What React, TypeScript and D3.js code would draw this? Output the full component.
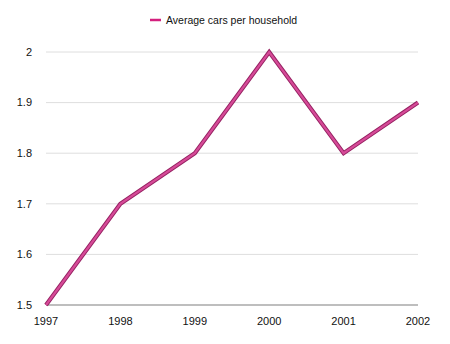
import React from "react";
import * as d3 from "d3";

const years = ["1997", "1998", "1999", "2000", "2001", "2002"];
const cars = [1.5, 1.7, 1.8, 2.0, 1.8, 1.9];
const yTicks = [1.5, 1.6, 1.7, 1.8, 1.9, 2];
const seriesName = "Average cars per household";

export default function App() {
  const W = 450, H = 344;
  const x = d3.scalePoint<string>().domain(years).range([46, 418]);
  const y = d3.scaleLinear().domain([1.5, 2]).range([305, 52]);
  const line = d3.line<number>().x((_, i) => x(years[i])!).y((d) => y(d));
  const path = line(cars)!;
  const font = "'Liberation Sans', Arial, Helvetica, sans-serif";
  return (
    <svg width={W} height={H} style={{ position: "absolute", left: 0, top: 0 }} fontFamily={font}>
      <rect width={W} height={H} fill="#fff" />
      {yTicks.map((t) => (
        <g key={t}>
          {t !== 1.5 && (
            <line x1={46} x2={418} y1={y(t)} y2={y(t)} stroke="#dedede" strokeWidth={1} />
          )}
          <text x={32} y={y(t)} dy="0.35em" textAnchor="end" fontSize={11} fill="#111">
            {d3.format("")(t)}
          </text>
        </g>
      ))}
      <line x1={46} x2={418} y1={y(1.5)} y2={y(1.5)} stroke="#a8a8a8" strokeWidth={1.5} />
      {years.map((yr) => (
        <text key={yr} x={x(yr)} y={321} dy="0.35em" textAnchor="middle" fontSize={11} fill="#111">
          {yr}
        </text>
      ))}
      <path d={path} fill="none" stroke="#962262" strokeWidth={4.2} strokeLinejoin="miter" />
      <path d={path} fill="none" stroke="#d64a98" strokeWidth={2.2} strokeLinejoin="miter" />
      <line x1={150} x2={161} y1={20} y2={20} stroke="#d4207e" strokeWidth={2.5} />
      <text x={166} y={20} dy="0.35em" fontSize={10.5} fill="#111">{seriesName}</text>
    </svg>
  );
}
